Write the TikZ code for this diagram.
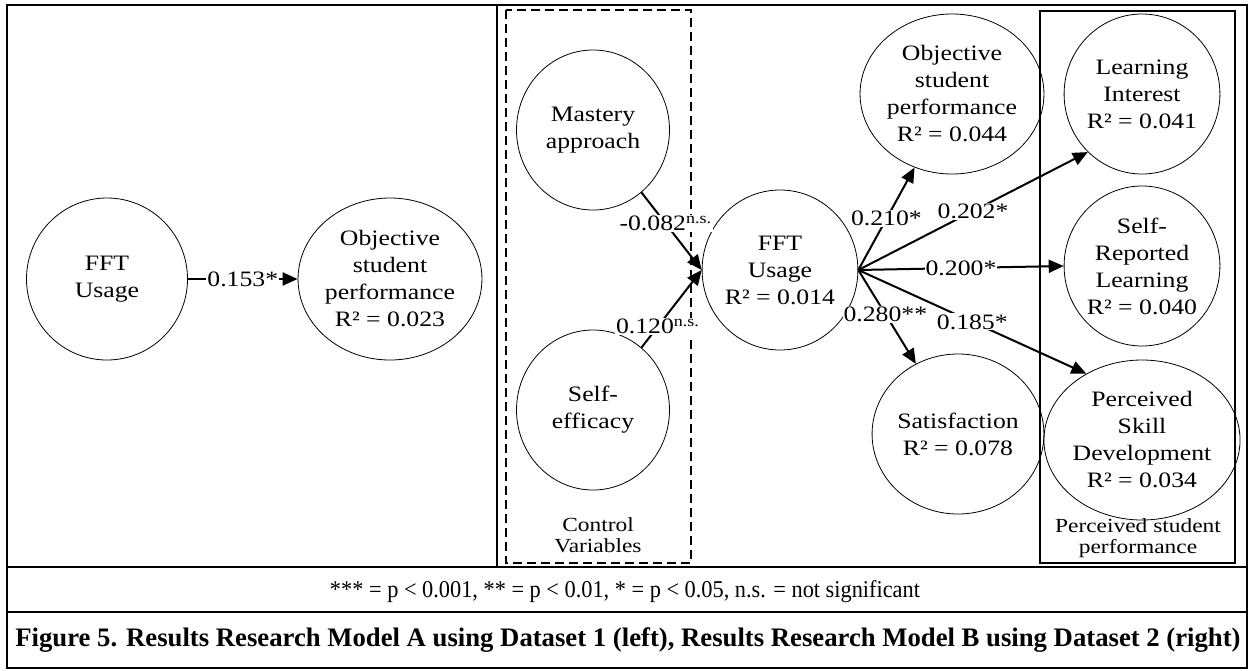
\documentclass[tikz,border=0pt]{standalone}
\usepackage{fontspec}
\usepackage{graphicx}
\setmainfont{Liberation Serif}[FakeStretch=1.17]
\newfontfamily\plainserif{Liberation Serif}
\usetikzlibrary{arrows.meta,shapes.geometric}
\begin{document}
\begin{tikzpicture}[x=1pt,y=-1pt,
  var/.style={draw, ellipse, line width=0.8pt, minimum width=153pt, minimum height=160pt,
    inner sep=0pt, align=center, font=\fontsize{22}{27}\selectfont},
  varL/.style={var, minimum width=161pt, minimum height=162pt},
  conn/.style={line width=2pt, -{Triangle[length=15pt,width=13pt]}},
  lab/.style={fill=white, inner sep=1pt, font=\fontsize{22}{26}\selectfont},
  boxlab/.style={align=center, inner sep=0pt, font=\fontsize{20}{21}\selectfont},
  frame/.style={line width=2.5pt},
  rule/.style={line width=2pt}
]
\useasboundingbox (0,0) rectangle (1250,670);
\fill[white] (0,0) rectangle (1250,670);

% frame and table rules
\draw[frame] (7,5) rectangle (1247,668);
\draw[rule] (7,567) -- (1247,567);
\draw[rule] (7,612) -- (1247,612);
\draw[rule] (497,5) -- (497,567);

% group boxes
\draw[line width=1.2pt, dash pattern=on 9pt off 5pt] (506,10) rectangle (691,563);
\draw[line width=1.2pt] (1040,11) rectangle (1235,563);
\node[boxlab] (cv) at (598,535) {Control\\Variables};
\node[boxlab] (psp) at (1138,538) {Perceived student\\performance};

% left model
\node[varL] (fftA) at (107,279) {FFT\\Usage};
\node[varL] (objA) at (390,279) {Objective\\student\\performance\\R² = 0.023};
\draw[conn] (fftA) -- node[lab]{0.153*} (objA);

% right model
\node[var] (mast) at (593,130) {Mastery\\approach};
\node[var] (self) at (593,410) {Self-\\efficacy};
\node[var] (fftB) at (780,270) {FFT\\Usage\\R² = 0.014};
\node[var] (objB) at (952,94) {Objective\\student\\performance\\R² = 0.044};
\node[var] (li) at (1142,94) {Learning\\Interest\\R² = 0.041};
\node[var] (srl) at (1142,266) {Self-\\Reported\\Learning\\R² = 0.040};
\node[var] (sat) at (958,434) {Satisfaction\\R² = 0.078};
\node[var] (psd) at (1142,440) {Perceived\\Skill\\Development\\R² = 0.034};

\draw[conn] (mast) -- node[lab,pos=0.4]{-0.082\textsuperscript{n.s.}} (fftB.west);
\draw[conn] (self) -- node[lab,pos=0.27]{0.120\textsuperscript{n.s.}} (fftB.west);

\draw[conn] (fftB.east) -- node[lab,pos=0.5]{0.210*} (objB.243);
\draw[conn] (fftB.east) -- node[lab,pos=0.5]{0.202*} (li.227);
\draw[conn] (fftB.east) -- node[lab,pos=0.5]{0.200*} (srl.west);
\draw[conn] (fftB.east) -- node[lab,pos=0.47]{0.280**} (sat.121);
\draw[conn] (fftB.east) -- node[lab,pos=0.5]{0.185*} (psd.130);

% footnote and caption
\node[inner sep=0pt] (fn) at (625,592) {\resizebox{590pt}{17pt}{\plainserif *** = p < 0.001, ** = p < 0.01, * = p < 0.05, n.s. = not significant}};
\node[inner sep=0pt] (cap) at (628,640) {\resizebox{1225pt}{!}{\plainserif\bfseries Figure 5. Results Research Model A using Dataset 1 (left), Results Research Model B using Dataset 2 (right)}};
\end{tikzpicture}
\end{document}
